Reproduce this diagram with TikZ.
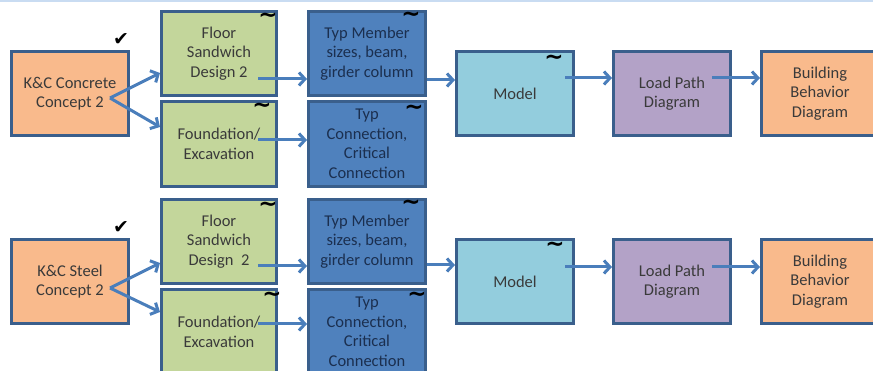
\documentclass[tikz,border=0pt]{standalone}
\usepackage{fontspec}
\setmainfont{Carlito}
\newfontfamily\symfnt{DejaVu Sans}
\usetikzlibrary{arrows.meta}
\definecolor{bordc}{HTML}{3A5F8C}
\definecolor{arrc}{HTML}{4A7EBB}
\definecolor{orangec}{HTML}{F9BA8C}
\definecolor{greenc}{HTML}{C3D69B}
\definecolor{bluec}{HTML}{4F81BD}
\definecolor{modelc}{HTML}{93CDDD}
\definecolor{purplec}{HTML}{B3A2C7}
\definecolor{txtc}{HTML}{3A3A3A}
\definecolor{navyc}{HTML}{1B2F4F}
\definecolor{topc}{HTML}{C9DCF2}
\begin{document}
\begin{tikzpicture}[x=1pt,y=-1pt,
  box/.style={draw=bordc, line width=3pt, minimum width=117pt, minimum height=84pt,
    align=center, inner sep=0pt, text=txtc, font=\fontsize{16.5}{19.5}\selectfont},
  orangebox/.style={box, fill=orangec},
  greenbox/.style={box, fill=greenc, minimum width=115pt},
  bluebox/.style={box, fill=bluec, text=navyc},
  modelbox/.style={box, fill=modelc},
  purplebox/.style={box, fill=purplec},
  arr/.style={draw=arrc, line width=3pt, -{Straight Barb[length=6pt,width=13pt,line width=3pt]}},
  tilde/.style={inner sep=0pt, font=\symfnt\bfseries\fontsize{23}{23}\selectfont, text=black},
  tick/.style={inner sep=0pt, font=\symfnt\fontsize{19}{19}\selectfont, text=black}]
\useasboundingbox (0,0) rectangle (873,371);
\draw[topc, line width=2pt] (0,1) -- (873,1);

% ---- top row ----
\node[orangebox] (kc1) at (70,93.5) {K\&C Concrete\\Concept 2};
\node[greenbox] (gt1) at (219,53.5) {Floor\\Sandwich\\Design 2};
\node[greenbox, minimum height=85pt] (gb1) at (219,144) {Foundation/\\Excavation};
\node[bluebox] (bt1) at (367,53.5) {Typ Member\\sizes, beam,\\girder column};
\node[bluebox, minimum height=85pt] (bb1) at (367,144) {Typ\\Connection,\\Critical\\Connection};
\node[modelbox] (m1) at (515,93.5) {Model};
\node[purplebox] (l1) at (672,93.5) {Load Path\\Diagram};
\node[orangebox] (b1) at (820,93.5) {Building\\Behavior\\Diagram};

\node[tick] (ck1) at (121,40) {✔};
\node[tilde] (t11) at (268,18) {\textasciitilde};
\node[tilde] (t12) at (262,108) {\textasciitilde};
\node[tilde] (t13) at (411,17) {\textasciitilde};
\node[tilde] (t14) at (414,110) {\textasciitilde};
\node[tilde] (t15) at (554,60) {\textasciitilde};

\coordinate (k1) at (110,98);
\coordinate (sg1) at (258,79);
\coordinate (sh1) at (258,140);
\coordinate (sb1) at (427,80);
\coordinate (sm1) at (565,78);
\coordinate (sl1) at (712,78);
\draw[arr] (k1) -- ([yshift=-19.5pt]gt1.west);
\draw[arr] (k1) -- ([yshift=17pt]gb1.west);
\draw[arr] (sg1) -- (sg1 -| bt1.west);
\draw[arr] (sh1) -- (sh1 -| bb1.west);
\draw[arr] (sb1) -- (sb1 -| m1.west);
\draw[arr] (sm1) -- (sm1 -| l1.west);
\draw[arr] (sl1) -- (sl1 -| b1.west);

% ---- bottom row ----
\node[orangebox] (kc2) at (70,281.5) {K\&C Steel\\Concept 2};
\node[greenbox] (gt2) at (219,241.5) {Floor\\Sandwich\\Design\ \ 2};
\node[greenbox, minimum height=85pt] (gb2) at (219,332) {Foundation/\\Excavation};
\node[bluebox] (bt2) at (367,241.5) {Typ Member\\sizes, beam,\\girder column};
\node[bluebox, minimum height=85pt] (bb2) at (367,332) {Typ\\Connection,\\Critical\\Connection};
\node[modelbox] (m2) at (515,281.5) {Model};
\node[purplebox] (l2) at (672,281.5) {Load Path\\Diagram};
\node[orangebox] (b2) at (820,281.5) {Building\\Behavior\\Diagram};

\node[tick] (ck2) at (121,228) {✔};
\node[tilde] (t21) at (268,207) {\textasciitilde};
\node[tilde] (t22) at (272,297) {\textasciitilde};
\node[tilde] (t23) at (411,205) {\textasciitilde};
\node[tilde] (t24) at (417,297) {\textasciitilde};
\node[tilde] (t25) at (555,247) {\textasciitilde};

\coordinate (k2) at (110,288);
\coordinate (sg2) at (258,266);
\coordinate (sh2) at (258,324);
\coordinate (sb2) at (427,265);
\coordinate (sm2) at (565,267);
\coordinate (sl2) at (712,267);
\draw[arr] (k2) -- ([yshift=-21.5pt]gt2.west);
\draw[arr] (k2) -- ([yshift=20pt]gb2.west);
\draw[arr] (sg2) -- (sg2 -| bt2.west);
\draw[arr] (sh2) -- (sh2 -| bb2.west);
\draw[arr] (sb2) -- (sb2 -| m2.west);
\draw[arr] (sm2) -- (sm2 -| l2.west);
\draw[arr] (sl2) -- (sl2 -| b2.west);
\end{tikzpicture}
\end{document}
